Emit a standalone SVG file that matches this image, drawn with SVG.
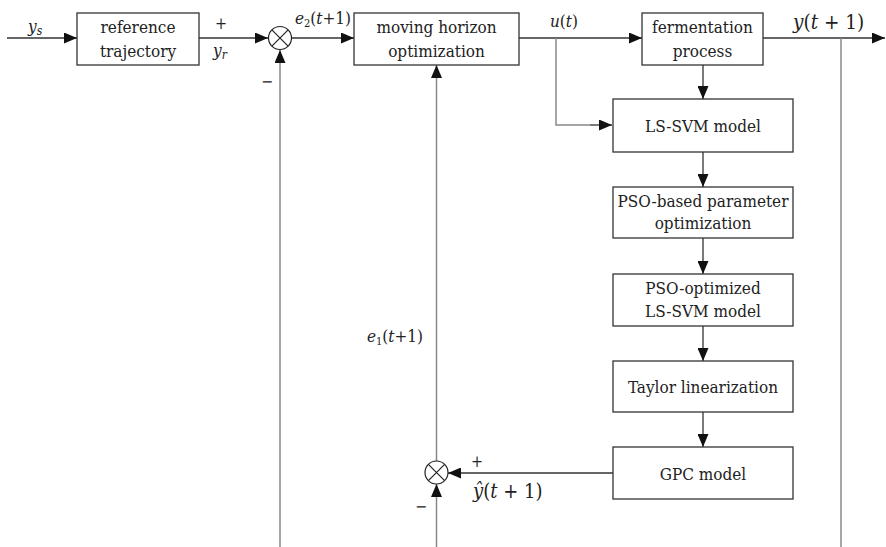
<svg xmlns="http://www.w3.org/2000/svg" width="886" height="547" viewBox="0 0 886 547">
<defs>
<marker id="arr" markerUnits="userSpaceOnUse" markerWidth="13" markerHeight="11" refX="13" refY="5.5" orient="auto">
<path d="M0,0 L13,5.5 L0,11 z" fill="#111"/>
</marker>
<style>
text{font-family:"DejaVu Serif Condensed","DejaVu Serif",serif;font-stretch:condensed}
.box{fill:#fff;stroke:#333;stroke-width:1.3}
.t{font-size:17px;fill:#222;text-anchor:middle}
.m{font-size:17px;fill:#222}
.s{font-size:16px;fill:#222}
.b{font-size:20px;fill:#222}
.i{font-style:italic}
.ln{fill:none;stroke:#333;stroke-width:1.3}
.gl{fill:none;stroke:#888;stroke-width:1.5}
.sum{fill:#fff;stroke:#222;stroke-width:1.2}
</style>
</defs>
<rect width="886" height="547" fill="#fff"/>
<g id="connectors">
<line class="ln" x1="7" y1="38" x2="77" y2="38" marker-end="url(#arr)"/>
<line class="ln" x1="199" y1="38" x2="268" y2="38" marker-end="url(#arr)"/>
<line class="ln" x1="292" y1="38" x2="354" y2="38" marker-end="url(#arr)"/>
<line class="ln" x1="519" y1="38" x2="642" y2="38" marker-end="url(#arr)"/>
<line class="ln" x1="763" y1="38" x2="885" y2="38" marker-end="url(#arr)"/>
<polyline class="gl" points="556,38 556,125 590,125" />
<line class="ln" x1="590" y1="125" x2="612" y2="125" marker-end="url(#arr)"/>
<line class="gl" x1="841" y1="38" x2="841" y2="547"/>
<line class="gl" x1="280" y1="547" x2="280" y2="50" marker-end="url(#arr)"/>
<line class="gl" x1="436.5" y1="461" x2="436.5" y2="65" marker-end="url(#arr)"/>
<line class="gl" x1="436.5" y1="547" x2="436.5" y2="484" marker-end="url(#arr)"/>
<line class="ln" x1="703" y1="65" x2="703" y2="99" marker-end="url(#arr)"/>
<line class="ln" x1="703" y1="152" x2="703" y2="187" marker-end="url(#arr)"/>
<line class="ln" x1="703" y1="238" x2="703" y2="274" marker-end="url(#arr)"/>
<line class="ln" x1="703" y1="326" x2="703" y2="361" marker-end="url(#arr)"/>
<line class="ln" x1="703" y1="412" x2="703" y2="447" marker-end="url(#arr)"/>
<line class="ln" x1="613" y1="473" x2="448" y2="473" marker-end="url(#arr)"/>
</g>
<g id="sum1">
<circle class="sum" cx="280" cy="38" r="11.5"/>
<path class="sum" d="M271.9,29.9 L288.1,46.1 M288.1,29.9 L271.9,46.1"/>
</g>
<g id="sum2">
<circle class="sum" cx="436.5" cy="472.5" r="11.5"/>
<path class="sum" d="M428.4,464.4 L444.6,480.6 M444.6,464.4 L428.4,480.6"/>
</g>
<g id="reference">
<rect class="box" x="77" y="13" width="122" height="52"/>
<text class="t" x="138" y="33">reference</text>
<text class="t" x="138" y="57">trajectory</text>
</g>
<g id="mho">
<rect class="box" x="354" y="13" width="165" height="52"/>
<text class="t" x="436.5" y="33">moving horizon</text>
<text class="t" x="436.5" y="57">optimization</text>
</g>
<g id="fermentation">
<rect class="box" x="642" y="13" width="121" height="52"/>
<text class="t" x="702.5" y="33">fermentation</text>
<text class="t" x="702.5" y="57">process</text>
</g>
<g id="lssvm">
<rect class="box" x="613" y="99" width="180" height="53"/>
<text class="t" x="703" y="132">LS-SVM model</text>
</g>
<g id="pso">
<rect class="box" x="613" y="187" width="180" height="51"/>
<text class="t" x="703" y="207">PSO-based parameter</text>
<text class="t" x="703" y="229">optimization</text>
</g>
<g id="psolssvm">
<rect class="box" x="613" y="274" width="180" height="52"/>
<text class="t" x="703" y="294">PSO-optimized</text>
<text class="t" x="703" y="317">LS-SVM model</text>
</g>
<g id="taylor">
<rect class="box" x="613" y="361" width="180" height="51"/>
<text class="t" x="703" y="393">Taylor linearization</text>
</g>
<g id="gpc">
<rect class="box" x="613" y="447" width="180" height="52"/>
<text class="t" x="703" y="480">GPC model</text>
</g>
<g id="labels">
<text class="m i" x="28" y="32">y<tspan font-size="12" dy="3">s</tspan></text>
<text class="s" x="215" y="29">+</text>
<text class="m i" x="213" y="56">y<tspan font-size="12" dy="3">r</tspan></text>
<text class="s" x="261" y="87">−</text>
<text class="m" x="295" y="24"><tspan class="i">e</tspan><tspan font-size="11" dy="3">2</tspan><tspan dy="-3">(</tspan><tspan class="i">t</tspan>+1)</text>
<text class="m" x="550" y="27"><tspan class="i">u</tspan>(<tspan class="i">t</tspan>)</text>
<text class="b" x="793" y="29" style="font-size:20.5px"><tspan class="i">y</tspan>(<tspan class="i">t</tspan> + 1)</text>
<text class="m" x="367" y="342"><tspan class="i">e</tspan><tspan font-size="11" dy="3">1</tspan><tspan dy="-3">(</tspan><tspan class="i">t</tspan>+1)</text>
<text class="s" x="471" y="467">+</text>
<text class="b" x="473" y="498"><tspan class="i">ŷ</tspan>(<tspan class="i">t</tspan> + 1)</text>
<text class="s" x="415" y="512">−</text>
</g>
</svg>
